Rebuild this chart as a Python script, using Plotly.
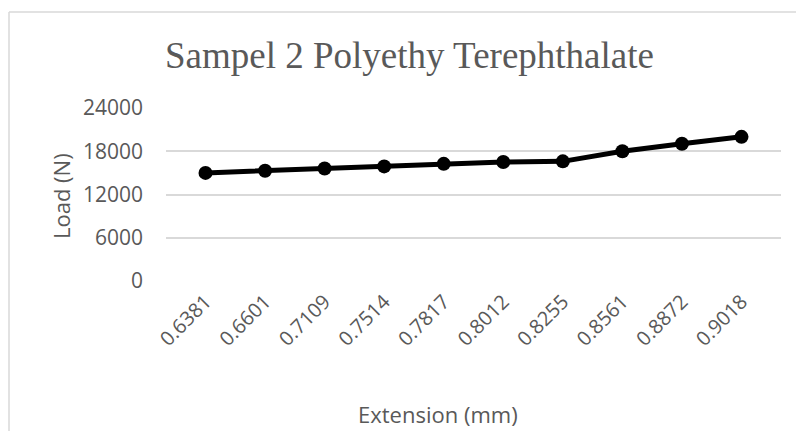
import plotly.graph_objects as go

categories = ["0.6381", "0.6601", "0.7109", "0.7514", "0.7817", "0.8012", "0.8255", "0.8561", "0.8872", "0.9018"]
load_values = [15000, 15300, 15600, 15900, 16250, 16500, 16600, 18000, 19050, 20000]
y_ticks = [0, 6000, 12000, 18000, 24000]
y_tick_labels = ["0", "6000", "12000", "18000", "24000"]
title_text = "Sampel 2 Polyethy Terephthalate"
x_title = "Extension (mm)"
y_title = "Load (N)"

W, H = 796, 431
L, R, T, B = 166, 15, 108, 150
pw, ph = W - L - R, H - T - B

def px_x(p):
    return (p - L) / pw

def px_y(p):
    return 1 - (p - T) / ph

grey = "#595959"
tick_font = dict(family="Open Sans", size=21, color=grey)
xtick_font = dict(family="Open Sans", size=20, color=grey)

fig = go.Figure()
fig.add_trace(go.Scatter(
    x=categories, y=load_values, mode="lines+markers",
    line=dict(color="black", width=5),
    marker=dict(color="black", size=14),
    showlegend=False, hoverinfo="skip",
))

fig.update_layout(
    width=W, height=H,
    margin=dict(l=L, r=R, t=T, b=B, pad=0, autoexpand=False),
    paper_bgcolor="white", plot_bgcolor="white",
    xaxis=dict(type="category", tickangle=-45, tickfont=xtick_font,
               showgrid=False, zeroline=False, showline=False, ticks="",
               ticklabelstandoff=4, automargin=False),
    yaxis=dict(range=[0, 24000], tickvals=y_ticks, ticktext=y_tick_labels,
               tickfont=tick_font,
               showgrid=True, gridcolor="#d9d9d9", gridwidth=1.5,
               zeroline=False, showline=False, ticks="",
               ticklabelstandoff=22, automargin=False),
    annotations=[
        dict(text=title_text, xref="paper", yref="paper", x=px_x(409.5), y=px_y(56),
             xanchor="center", yanchor="middle", showarrow=False,
             font=dict(family="Liberation Serif", size=37, color=grey)),
        dict(text=x_title, xref="paper", yref="paper", x=px_x(438), y=px_y(414),
             xanchor="center", yanchor="middle", showarrow=False,
             font=dict(family="Open Sans", size=22, color=grey)),
        dict(text=y_title, xref="paper", yref="paper", x=px_x(61), y=px_y(196),
             xanchor="center", yanchor="middle", showarrow=False, textangle=-90,
             font=dict(family="Open Sans", size=22, color=grey)),
    ],
    shapes=[
        dict(type="line", xref="paper", yref="paper", x0=px_x(9), x1=px_x(W + 5),
             y0=px_y(12), y1=px_y(12), line=dict(color="#d9d9d9", width=1.5)),
        dict(type="line", xref="paper", yref="paper", x0=px_x(9), x1=px_x(9),
             y0=px_y(12), y1=px_y(H + 5), line=dict(color="#d9d9d9", width=1.5)),
    ],
)

fig.write_html("out.html", config={"displayModeBar": False},
               post_script="document.body.style.margin='0';document.body.style.overflow='hidden';")
